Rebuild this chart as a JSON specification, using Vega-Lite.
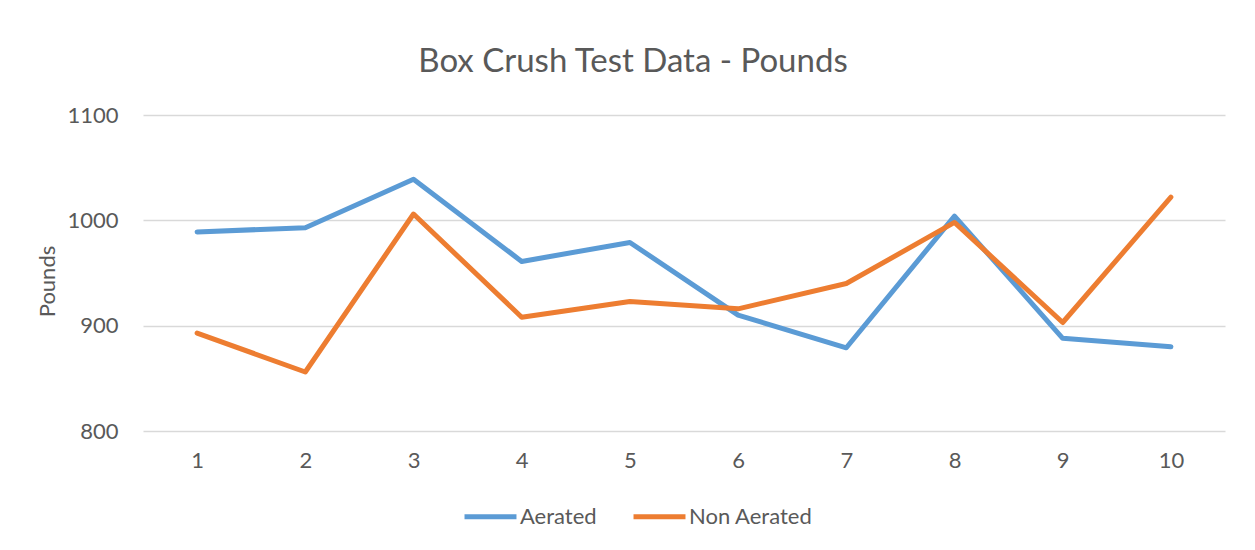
{
  "$schema": "https://vega.github.io/schema/vega-lite/v6.json",
  "width": 1082,
  "height": 316,
  "autosize": "none",
  "padding": {"left": 143, "top": 115, "right": 30, "bottom": 119},
  "background": "white",
  "title": {
    "text": "Box Crush Test Data - Pounds",
    "fontSize": 33,
    "font": "Lato",
    "fontWeight": "normal",
    "color": "#595959",
    "anchor": "middle",
    "dx": -51,
    "offset": 25
  },
  "data": {
    "values": [
      {"test": 1, "series": "Aerated", "pounds": 989},
      {"test": 2, "series": "Aerated", "pounds": 993},
      {"test": 3, "series": "Aerated", "pounds": 1039},
      {"test": 4, "series": "Aerated", "pounds": 961},
      {"test": 5, "series": "Aerated", "pounds": 979},
      {"test": 6, "series": "Aerated", "pounds": 910},
      {"test": 7, "series": "Aerated", "pounds": 879},
      {"test": 8, "series": "Aerated", "pounds": 1004},
      {"test": 9, "series": "Aerated", "pounds": 888},
      {"test": 10, "series": "Aerated", "pounds": 880},
      {"test": 1, "series": "Non Aerated", "pounds": 893},
      {"test": 2, "series": "Non Aerated", "pounds": 856},
      {"test": 3, "series": "Non Aerated", "pounds": 1006},
      {"test": 4, "series": "Non Aerated", "pounds": 908},
      {"test": 5, "series": "Non Aerated", "pounds": 923},
      {"test": 6, "series": "Non Aerated", "pounds": 916},
      {"test": 7, "series": "Non Aerated", "pounds": 940},
      {"test": 8, "series": "Non Aerated", "pounds": 998},
      {"test": 9, "series": "Non Aerated", "pounds": 903},
      {"test": 10, "series": "Non Aerated", "pounds": 1022}
    ]
  },
  "mark": {"type": "line", "strokeWidth": 5, "strokeCap": "round", "strokeJoin": "round"},
  "encoding": {
    "x": {
      "field": "test",
      "type": "ordinal",
      "scale": {"type": "point", "padding": 0.5},
      "axis": {
        "title": null,
        "labelAngle": 0,
        "labelFont": "Lato",
        "labelFontSize": 22,
        "labelColor": "#595959",
        "labelPadding": 19,
        "ticks": false,
        "domain": false,
        "grid": false
      }
    },
    "y": {
      "field": "pounds",
      "type": "quantitative",
      "scale": {"domain": [800, 1100], "nice": false, "zero": false},
      "axis": {
        "values": [800, 900, 1000, 1100],
        "format": "d",
        "title": "Pounds",
        "titleFont": "Lato",
        "titleFontSize": 22,
        "titleFontWeight": "normal",
        "titleColor": "#595959",
        "titleX": -96,
        "titleY": 166,
        "titleAngle": -90,
        "titleAlign": "center",
        "titleBaseline": "middle",
        "labelFont": "Lato",
        "labelFontSize": 22,
        "labelColor": "#595959",
        "labelPadding": 25,
        "ticks": false,
        "domain": false,
        "grid": true,
        "gridColor": "#d9d9d9",
        "gridWidth": 1.5
      }
    },
    "color": {
      "field": "series",
      "type": "nominal",
      "scale": {"domain": ["Aerated", "Non Aerated"], "range": ["#5B9BD5", "#ED7D31"]},
      "legend": {
        "title": null,
        "orient": "none",
        "direction": "horizontal",
        "legendX": 319,
        "legendY": 373,
        "symbolType": "stroke",
        "symbolStrokeWidth": 5,
        "symbolSize": 2700,
        "labelFont": "Lato",
        "labelFontSize": 22,
        "labelColor": "#595959",
        "labelOffset": 1,
        "columnPadding": 26
      }
    }
  },
  "config": {"view": {"stroke": null}}
}
